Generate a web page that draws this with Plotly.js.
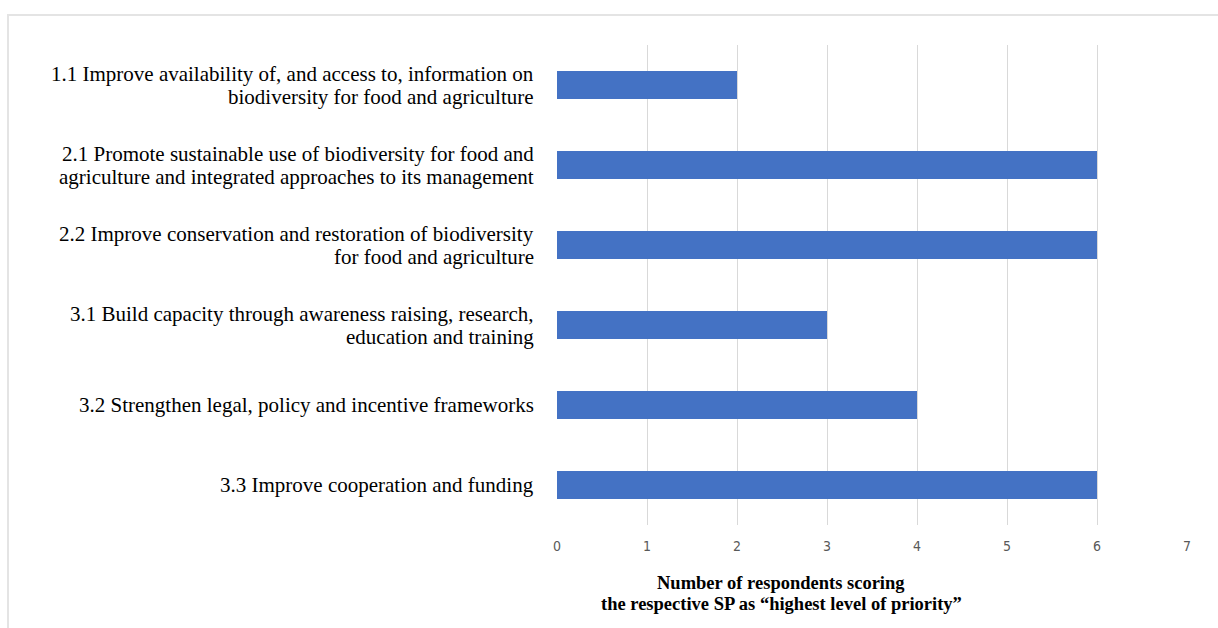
<!DOCTYPE html>
<html>
<head>
<meta charset="utf-8">
<script src="https://cdn.plot.ly/plotly-3.0.1.min.js"></script>
<style>
  html, body { margin: 0; padding: 0; background: #fff; }
  #wrap { position: relative; width: 1218px; height: 628px; }
  #chart { position: absolute; left: 0; top: 0; width: 1218px; height: 628px; }
  #frame { position: absolute; left: 7px; top: 14px; width: 1211px; height: 614px;
           border-top: 2px solid #e4e4e4; border-left: 2px solid #e4e4e4; pointer-events: none; }
</style>
</head>
<body>
<div id="wrap">
  <div id="chart"></div>
  <div id="frame"></div>
</div>
<script>
const categories = [
  "1.1 Improve availability of, and access to, information on<br>biodiversity for food and agriculture",
  "2.1 Promote sustainable use of biodiversity for food and<br>agriculture and integrated approaches to its management",
  "2.2 Improve conservation and restoration of biodiversity<br>for food and agriculture",
  "3.1 Build capacity through awareness raising, research,<br>education and training",
  "3.2 Strengthen legal, policy and incentive frameworks",
  "3.3 Improve cooperation and funding"
];
const respondents = [2, 6, 6, 3, 4, 6];
const xTickValues = [0, 1, 2, 3, 4, 5, 6, 7];
const xTitleLines = ["Number of respondents scoring", "the respective SP as \u201chighest level of priority\u201d"];

const SERIF = 'Liberation Serif, Times New Roman, serif';
const LABEL_LINE = 23;   // px between label lines
const TITLE_LINE = 21;

const trace = {
  type: 'bar',
  orientation: 'h',
  y: categories,
  x: respondents,
  marker: { color: '#4472C4' },
  hoverinfo: 'x+y'
};

// category labels drawn line by line
const annotations = [];
categories.forEach(function (cat) {
  const lines = cat.split('<br>');
  lines.forEach(function (line, i) {
    annotations.push({
      xref: 'paper', yref: 'y',
      x: 0, y: cat,
      xanchor: 'right', yanchor: 'middle',
      xshift: -22,
      yshift: ((lines.length - 1) / 2 - i) * LABEL_LINE,
      showarrow: false,
      borderpad: 0,
      text: line,
      font: { family: SERIF, size: 21, color: '#000000' }
    });
  });
});
// x-axis title, two bold lines
xTitleLines.forEach(function (line, i) {
  annotations.push({
    xref: 'paper', yref: 'paper',
    x: (781 - 557) / 630, y: -(57.5 + i * TITLE_LINE) / 480,
    xanchor: 'center', yanchor: 'middle',
    showarrow: false,
    borderpad: 0,
    text: '<b>' + line + '</b>',
    font: { family: SERIF, size: 18.5, color: '#000000' }
  });
});

const layout = {
  width: 1218,
  height: 628,
  margin: { l: 557, r: 31, t: 45, b: 103 },
  paper_bgcolor: '#ffffff',
  plot_bgcolor: '#ffffff',
  bargap: 0.65,
  showlegend: false,
  xaxis: {
    range: [0, 7],
    tickvals: xTickValues,
    ticktext: xTickValues.map(String),
    showgrid: true,
    gridcolor: '#d9d9d9',
    gridwidth: 1,
    zeroline: false,
    showline: false,
    ticks: '',
    ticklabelstandoff: 11,
    tickfont: { family: 'Liberation Sans Narrow, DejaVu Sans Condensed, Arial Narrow, sans-serif', size: 14, color: '#595959' },
    fixedrange: true
  },
  yaxis: {
    type: 'category',
    autorange: 'reversed',
    showgrid: false,
    zeroline: false,
    showline: false,
    ticks: '',
    showticklabels: false,
    fixedrange: true
  },
  annotations: annotations
};

Plotly.newPlot('chart', [trace], layout, { displayModeBar: false, staticPlot: true });
</script>
</body>
</html>
